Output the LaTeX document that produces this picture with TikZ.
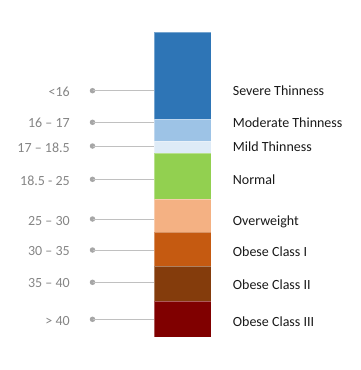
\documentclass[tikz,border=0pt]{standalone}
\usepackage{fontspec}
\setmainfont{Carlito}
\usepackage{tikz}
\usepackage{xcolor}
\definecolor{severe}{HTML}{2E75B6}
\definecolor{moderate}{HTML}{9DC3E6}
\definecolor{mild}{HTML}{DEEBF7}
\definecolor{normal}{HTML}{92D050}
\definecolor{overweight}{HTML}{F4B183}
\definecolor{obese-one}{HTML}{C55A11}
\definecolor{obese-two}{HTML}{843C0C}
\definecolor{obese-three}{HTML}{800000}
\definecolor{range-gray}{HTML}{858585}
\definecolor{lead-gray}{HTML}{C0C0C0}
\definecolor{dot-gray}{HTML}{A6A6A6}
\tikzset{
    bar-seg/.style = {rectangle, draw=white, draw opacity=0.35, line width=0.5pt, minimum width=57pt, inner sep=0pt, outer sep=0pt, anchor=north west},
    range-label/.style = {anchor=base east, text=range-gray, inner sep=0pt, yshift=-4.6pt},
    class-label/.style = {anchor=base west, text=black!90, inner sep=0pt, yshift=-4.6pt},
    lead-dot/.style = {circle, fill=dot-gray, inner sep=0pt, minimum size=5.5pt},
    lead-line/.style = {draw=lead-gray, line width=0.9pt},
}

\begin{document}
\begin{tikzpicture}[x=1pt, y=-1pt, font=\fontsize{14}{16}\selectfont]
\useasboundingbox (0,0) rectangle (360,370);

% the bar, top to bottom
\node[bar-seg, fill=severe,      minimum height=87pt] (severe)      at (154,32)  {};
\node[bar-seg, fill=moderate,    minimum height=22pt] (moderate)    at (154,119) {};
\node[bar-seg, fill=mild,        minimum height=12pt] (mild)        at (154,141) {};
\node[bar-seg, fill=normal,      minimum height=46pt] (normal)      at (154,153) {};
\node[bar-seg, fill=overweight,  minimum height=33pt] (overweight)  at (154,199) {};
\node[bar-seg, fill=obese-one,   minimum height=34pt] (obese-one)   at (154,232) {};
\node[bar-seg, fill=obese-two,   minimum height=35pt] (obese-two)   at (154,266) {};
\node[bar-seg, fill=obese-three, minimum height=36pt] (obese-three) at (154,301) {};

% dots and leader lines
\foreach \seg/\y in {severe/90.7, moderate/122.3, mild/146, normal/179.3,
                     overweight/219, obese-one/250, obese-two/282.3, obese-three/319.3} {
    \node[lead-dot] (dot-\seg) at (92.5,\y) {};
    \draw[lead-line] (dot-\seg.center) -- (dot-\seg.center -| \seg.west);
}

% BMI ranges
\node[range-label] (range-severe)      at (70,91.7)  {<16};
\node[range-label] (range-moderate)    at (70,123.3) {16 – 17};
\node[range-label] (range-mild)        at (70,147.5) {17 – 18.5};
\node[range-label] (range-normal)      at (70,180.7) {18.5 - 25};
\node[range-label] (range-overweight)  at (70,220.7) {25 – 30};
\node[range-label] (range-obese-one)   at (70,250.7) {30 – 35};
\node[range-label] (range-obese-two)   at (70,283.3) {35 – 40};
\node[range-label] (range-obese-three) at (70,320.7) {> 40};

% class names
\node[class-label] (name-severe)      at (232.7,90.7)  {Severe Thinness};
\node[class-label] (name-moderate)    at (232.7,122.5) {Moderate Thinness};
\node[class-label] (name-mild)        at (232.7,146.7) {Mild Thinness};
\node[class-label] (name-normal)      at (232.7,180)   {Normal};
\node[class-label] (name-overweight)  at (232.7,221)   {Overweight};
\node[class-label] (name-obese-one)   at (232.7,252.3) {Obese Class I};
\node[class-label] (name-obese-two)   at (232.7,285)   {Obese Class II};
\node[class-label] (name-obese-three) at (232.7,321.7) {Obese Class III};
\end{tikzpicture}
\end{document}
